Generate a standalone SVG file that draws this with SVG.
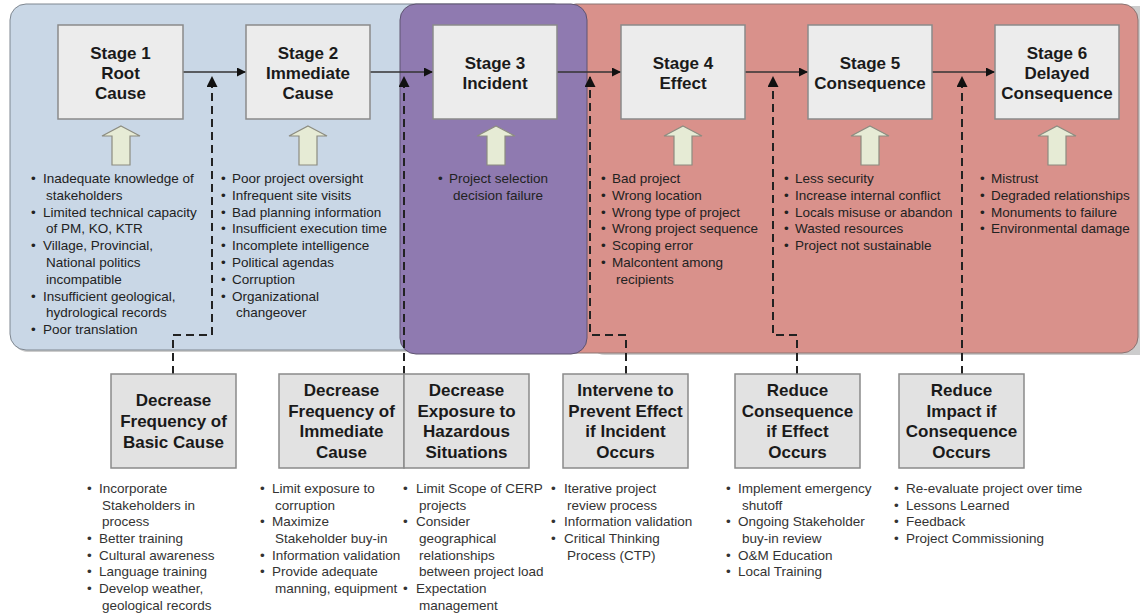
<svg xmlns="http://www.w3.org/2000/svg" width="1140" height="615" viewBox="0 0 1140 615">
<style>
.t{font-family:"Liberation Sans",Arial,sans-serif;font-weight:bold;font-size:17px;fill:#1a1a1a;text-anchor:middle}
.li{font-family:"Liberation Sans",Arial,sans-serif;font-size:13.5px;fill:#222}
.lb{font-family:"Liberation Sans",Arial,sans-serif;font-size:13.5px;fill:#333}
.stage{fill:#ececec;stroke:#8a8a8a;stroke-width:1.5}
.bbox{fill:#e2e2e2;stroke:#8a8a8a;stroke-width:1.5}
.up{fill:#e6ebd5;stroke:#8c8c80;stroke-width:1.2}
.flow{stroke:#333;stroke-width:1.3;fill:none}
.dash{stroke:#222;stroke-width:2;stroke-dasharray:8,5;fill:none}
</style>
<defs>
<marker id="ah" viewBox="0 0 10 10" refX="10" refY="5" markerWidth="9" markerHeight="9" markerUnits="userSpaceOnUse" orient="auto"><path d="M0,0 L10,5 L0,10 z" fill="#111"/></marker>
<marker id="au" viewBox="0 0 10 10" refX="10" refY="5" markerWidth="11" markerHeight="11" markerUnits="userSpaceOnUse" orient="auto"><path d="M0,0 L10,5 L0,10 z" fill="#111"/></marker>
</defs>
<rect width="1140" height="615" fill="#fff"/>
<g id="panels">
<rect x="12" y="6" width="560" height="346" rx="16" fill="#9a9a9a" opacity="0.5"/>
<rect x="10" y="4" width="560" height="346" rx="16" fill="#c9d7e6" stroke="#7f8790" stroke-width="1"/>
<rect x="589" y="6" width="580" height="349" rx="16" fill="#9a9a9a" opacity="0.5"/>
<rect x="560" y="4" width="578" height="349" rx="16" fill="#d9918b" stroke="#8a7472" stroke-width="1"/>
<rect x="400" y="4" width="187" height="350" rx="16" fill="#8f7ab0" stroke="#5e5470" stroke-width="1"/>
</g>
<g id="connectors">
<line class="flow" x1="183" y1="72" x2="246" y2="72" marker-end="url(#ah)"/>
<line class="flow" x1="370" y1="72" x2="433" y2="72" marker-end="url(#ah)"/>
<line class="flow" x1="557" y1="72" x2="621" y2="72" marker-end="url(#ah)"/>
<line class="flow" x1="745" y1="72" x2="808" y2="72" marker-end="url(#ah)"/>
<line class="flow" x1="932" y1="72" x2="995" y2="72" marker-end="url(#ah)"/>
<path class="dash" d="M173,374 V335 H212 V76" marker-end="url(#au)"/>
<path class="dash" d="M404,374 V76" marker-end="url(#au)"/>
<path class="dash" d="M626,374 V335 H590 V76" marker-end="url(#au)"/>
<path class="dash" d="M797,374 V335 H773 V76" marker-end="url(#au)"/>
<path class="dash" d="M962,374 V76" marker-end="url(#au)"/>
</g>
<g id="stage1">
<rect class="stage" x="58" y="25" width="125" height="94"/>
<text class="t"><tspan x="120.5" y="59">Stage 1</tspan><tspan x="120.5" y="79">Root</tspan><tspan x="120.5" y="99">Cause</tspan></text>
<path class="up" d="M121,126 L140,136 L130,136 L130,165 L112,165 L112,136 L102,136 Z"/>
<text class="li"><tspan x="31" y="183">•</tspan><tspan x="31" y="216.6">•</tspan><tspan x="31" y="250.2">•</tspan><tspan x="31" y="300.6">•</tspan><tspan x="31" y="334.2">•</tspan></text>
<text class="li"><tspan x="43" y="183">Inadequate knowledge of</tspan><tspan x="46" y="199.8">stakeholders</tspan><tspan x="43" y="216.6">Limited technical capacity</tspan><tspan x="46" y="233.4">of PM, KO, KTR</tspan><tspan x="43" y="250.2">Village, Provincial,</tspan><tspan x="46" y="267">National politics</tspan><tspan x="46" y="283.8">incompatible</tspan><tspan x="43" y="300.6">Insufficient geological,</tspan><tspan x="46" y="317.4">hydrological records</tspan><tspan x="43" y="334.2">Poor translation</tspan></text>
</g>
<g id="stage2">
<rect class="stage" x="246" y="25" width="124" height="94"/>
<text class="t"><tspan x="308" y="59">Stage 2</tspan><tspan x="308" y="79">Immediate</tspan><tspan x="308" y="99">Cause</tspan></text>
<path class="up" d="M308,126 L327,136 L317,136 L317,165 L299,165 L299,136 L289,136 Z"/>
<text class="li"><tspan x="221" y="183">•</tspan><tspan x="221" y="199.8">•</tspan><tspan x="221" y="216.6">•</tspan><tspan x="221" y="233.4">•</tspan><tspan x="221" y="250.2">•</tspan><tspan x="221" y="267">•</tspan><tspan x="221" y="283.8">•</tspan><tspan x="221" y="300.6">•</tspan></text>
<text class="li"><tspan x="232" y="183">Poor project oversight</tspan><tspan x="232" y="199.8">Infrequent site visits</tspan><tspan x="232" y="216.6">Bad planning information</tspan><tspan x="232" y="233.4">Insufficient execution time</tspan><tspan x="232" y="250.2">Incomplete intelligence</tspan><tspan x="232" y="267">Political agendas</tspan><tspan x="232" y="283.8">Corruption</tspan><tspan x="232" y="300.6">Organizational</tspan><tspan x="236" y="317.4">changeover</tspan></text>
</g>
<g id="stage3">
<rect class="stage" x="433" y="25" width="124" height="94"/>
<text class="t"><tspan x="495" y="69">Stage 3</tspan><tspan x="495" y="89">Incident</tspan></text>
<path class="up" d="M496,126 L515,136 L505,136 L505,165 L487,165 L487,136 L477,136 Z"/>
<text class="li"><tspan x="438" y="183">•</tspan></text>
<text class="li"><tspan x="449" y="183">Project selection</tspan><tspan x="453" y="199.8">decision failure</tspan></text>
</g>
<g id="stage4">
<rect class="stage" x="621" y="25" width="124" height="94"/>
<text class="t"><tspan x="683" y="69">Stage 4</tspan><tspan x="683" y="89">Effect</tspan></text>
<path class="up" d="M683,126 L702,136 L692,136 L692,165 L674,165 L674,136 L664,136 Z"/>
<text class="li"><tspan x="601" y="183">•</tspan><tspan x="601" y="199.8">•</tspan><tspan x="601" y="216.6">•</tspan><tspan x="601" y="233.4">•</tspan><tspan x="601" y="250.2">•</tspan><tspan x="601" y="267">•</tspan></text>
<text class="li"><tspan x="612" y="183">Bad project</tspan><tspan x="612" y="199.8">Wrong location</tspan><tspan x="612" y="216.6">Wrong type of project</tspan><tspan x="612" y="233.4">Wrong project sequence</tspan><tspan x="612" y="250.2">Scoping error</tspan><tspan x="612" y="267">Malcontent among</tspan><tspan x="616" y="283.8">recipients</tspan></text>
</g>
<g id="stage5">
<rect class="stage" x="808" y="25" width="124" height="94"/>
<text class="t"><tspan x="870" y="69">Stage 5</tspan><tspan x="870" y="89">Consequence</tspan></text>
<path class="up" d="M870,126 L889,136 L879,136 L879,165 L861,165 L861,136 L851,136 Z"/>
<text class="li"><tspan x="784" y="183">•</tspan><tspan x="784" y="199.8">•</tspan><tspan x="784" y="216.6">•</tspan><tspan x="784" y="233.4">•</tspan><tspan x="784" y="250.2">•</tspan></text>
<text class="li"><tspan x="795" y="183">Less security</tspan><tspan x="795" y="199.8">Increase internal conflict</tspan><tspan x="795" y="216.6">Locals misuse or abandon</tspan><tspan x="795" y="233.4">Wasted resources</tspan><tspan x="795" y="250.2">Project not sustainable</tspan></text>
</g>
<g id="stage6">
<rect class="stage" x="995" y="25" width="124" height="94"/>
<text class="t"><tspan x="1057" y="59">Stage 6</tspan><tspan x="1057" y="79">Delayed</tspan><tspan x="1057" y="99">Consequence</tspan></text>
<path class="up" d="M1057,126 L1076,136 L1066,136 L1066,165 L1048,165 L1048,136 L1038,136 Z"/>
<text class="li"><tspan x="980" y="183">•</tspan><tspan x="980" y="199.8">•</tspan><tspan x="980" y="216.6">•</tspan><tspan x="980" y="233.4">•</tspan></text>
<text class="li"><tspan x="991" y="183">Mistrust</tspan><tspan x="991" y="199.8">Degraded relationships</tspan><tspan x="991" y="216.6">Monuments to failure</tspan><tspan x="991" y="233.4">Environmental damage</tspan></text>
</g>
<g id="ctrl1">
<rect class="bbox" x="111" y="374" width="125" height="94"/>
<text class="t"><tspan x="173.5" y="406">Decrease</tspan><tspan x="173.5" y="427">Frequency of</tspan><tspan x="173.5" y="448">Basic Cause</tspan></text>
<text class="lb"><tspan x="87" y="493">•</tspan><tspan x="87" y="543">•</tspan><tspan x="87" y="559.7">•</tspan><tspan x="87" y="576.4">•</tspan><tspan x="87" y="593.1">•</tspan></text>
<text class="lb"><tspan x="99" y="493">Incorporate</tspan><tspan x="102" y="509.7">Stakeholders in</tspan><tspan x="102" y="526.4">process</tspan><tspan x="99" y="543">Better training</tspan><tspan x="99" y="559.7">Cultural awareness</tspan><tspan x="99" y="576.4">Language training</tspan><tspan x="99" y="593.1">Develop weather,</tspan><tspan x="102" y="609.8">geological records</tspan></text>
</g>
<g id="ctrl2">
<rect class="bbox" x="279" y="374" width="125" height="94"/>
<text class="t"><tspan x="341.5" y="396">Decrease</tspan><tspan x="341.5" y="417">Frequency of</tspan><tspan x="341.5" y="437">Immediate</tspan><tspan x="341.5" y="458">Cause</tspan></text>
<text class="lb"><tspan x="260" y="493">•</tspan><tspan x="260" y="526.4">•</tspan><tspan x="260" y="559.7">•</tspan><tspan x="260" y="576.4">•</tspan></text>
<text class="lb"><tspan x="272" y="493">Limit exposure to</tspan><tspan x="275" y="509.7">corruption</tspan><tspan x="272" y="526.4">Maximize</tspan><tspan x="275" y="543">Stakeholder buy-in</tspan><tspan x="272" y="559.7">Information validation</tspan><tspan x="272" y="576.4">Provide adequate</tspan><tspan x="275" y="593.1">manning, equipment</tspan></text>
</g>
<g id="ctrl3">
<rect class="bbox" x="404" y="374" width="125" height="94"/>
<text class="t"><tspan x="466.5" y="396">Decrease</tspan><tspan x="466.5" y="417">Exposure to</tspan><tspan x="466.5" y="437">Hazardous</tspan><tspan x="466.5" y="458">Situations</tspan></text>
<text class="lb"><tspan x="403" y="493">•</tspan><tspan x="403" y="526.4">•</tspan><tspan x="403" y="593.1">•</tspan></text>
<text class="lb"><tspan x="416" y="493">Limit Scope of CERP</tspan><tspan x="419" y="509.7">projects</tspan><tspan x="416" y="526.4">Consider</tspan><tspan x="419" y="543">geographical</tspan><tspan x="419" y="559.7">relationships</tspan><tspan x="419" y="576.4">between project load</tspan><tspan x="416" y="593.1">Expectation</tspan><tspan x="419" y="609.8">management</tspan></text>
</g>
<g id="ctrl4">
<rect class="bbox" x="563" y="374" width="125" height="94"/>
<text class="t"><tspan x="625.5" y="396">Intervene to</tspan><tspan x="625.5" y="417">Prevent Effect</tspan><tspan x="625.5" y="437">if Incident</tspan><tspan x="625.5" y="458">Occurs</tspan></text>
<text class="lb"><tspan x="551" y="493">•</tspan><tspan x="551" y="526.4">•</tspan><tspan x="551" y="543">•</tspan></text>
<text class="lb"><tspan x="564" y="493">Iterative project</tspan><tspan x="567" y="509.7">review process</tspan><tspan x="564" y="526.4">Information validation</tspan><tspan x="564" y="543">Critical Thinking</tspan><tspan x="567" y="559.7">Process (CTP)</tspan></text>
</g>
<g id="ctrl5">
<rect class="bbox" x="735" y="374" width="125" height="94"/>
<text class="t"><tspan x="797.5" y="396">Reduce</tspan><tspan x="797.5" y="417">Consequence</tspan><tspan x="797.5" y="437">if Effect</tspan><tspan x="797.5" y="458">Occurs</tspan></text>
<text class="lb"><tspan x="726" y="493">•</tspan><tspan x="726" y="526.4">•</tspan><tspan x="726" y="559.7">•</tspan><tspan x="726" y="576.4">•</tspan></text>
<text class="lb"><tspan x="738" y="493">Implement emergency</tspan><tspan x="742" y="509.7">shutoff</tspan><tspan x="738" y="526.4">Ongoing Stakeholder</tspan><tspan x="742" y="543">buy-in review</tspan><tspan x="738" y="559.7">O&amp;M Education</tspan><tspan x="738" y="576.4">Local Training</tspan></text>
</g>
<g id="ctrl6">
<rect class="bbox" x="899" y="374" width="125" height="94"/>
<text class="t"><tspan x="961.5" y="396">Reduce</tspan><tspan x="961.5" y="417">Impact if</tspan><tspan x="961.5" y="437">Consequence</tspan><tspan x="961.5" y="458">Occurs</tspan></text>
<text class="lb"><tspan x="894" y="493">•</tspan><tspan x="894" y="509.7">•</tspan><tspan x="894" y="526.4">•</tspan><tspan x="894" y="543">•</tspan></text>
<text class="lb"><tspan x="906" y="493">Re-evaluate project over time</tspan><tspan x="906" y="509.7">Lessons Learned</tspan><tspan x="906" y="526.4">Feedback</tspan><tspan x="906" y="543">Project Commissioning</tspan></text>
</g>
</svg>
